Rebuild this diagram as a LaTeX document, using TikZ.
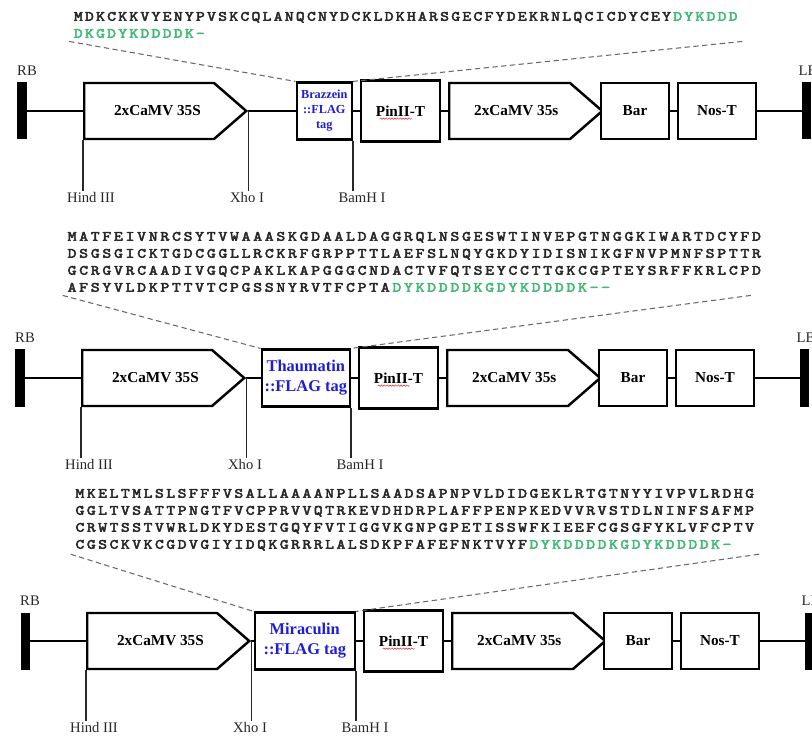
\documentclass[tikz,border=0pt]{standalone}
\usepackage{fontspec}
\setmainfont{Liberation Serif}
\newfontfamily\resfont{lmmono10-regular.otf}[FakeBold=3.5, FakeStretch=1.2]
\usetikzlibrary{positioning,calc,shapes.symbols,decorations.pathmorphing}
\definecolor{ink}{RGB}{0,0,0}
\definecolor{muted}{RGB}{40,40,40}
\definecolor{dashgrey}{RGB}{105,105,105}
\definecolor{flag}{RGB}{66,186,116}
\definecolor{gene}{RGB}{30,30,215}
\definecolor{spell}{RGB}{220,40,40}
\newlength\respitch
\def\resrun#1{\ifx\relax#1\else\makebox[\respitch]{#1}\expandafter\resrun\fi}
\newcommand{\peptide}[1]{\resrun#1\relax}
\newcommand{\flagtag}[1]{\textcolor{flag}{\resrun#1\relax}}
\tikzset{
  part/.style={draw=ink, line width=2.1pt, fill=white, minimum height=1.68cm, inner sep=0pt, align=center, font=\fontsize{13}{15}\selectfont\bfseries},
  promoter/.style={part, shape=signal, signal to=east, signal pointer angle=82, anchor=west},
  border/.style={fill=ink, minimum width=0.27cm, minimum height=1.71cm, inner sep=0pt},
  genesmall/.style={font=\fontsize{10.5}{12.8}\selectfont\bfseries},
  genelarge/.style={font=\fontsize{14}{17}\selectfont\bfseries},
  backbone/.style={draw=ink, line width=1.6pt},
  cutsite/.style={draw=muted, line width=0.9pt},
  sitetext/.style={font=\fontsize{12.5}{14}\selectfont, text=muted, inner sep=1pt},
  seqblock/.style={font=\fontsize{12}{14.5}\selectfont\resfont, text=muted, align=left, inner sep=0.1cm, anchor=north west},
  respitch/.code={\setlength\respitch{#1}},
  zoomline/.style={draw=dashgrey, line width=0.9pt, dash pattern=on 4.5pt off 3pt},
  squiggle/.style={draw=spell, line width=0.4pt, decorate, decoration={snake, amplitude=0.6pt, segment length=2.4pt}},
}
% one T-DNA row: prefix, y, x shift, gene width, gene text, gene font
\newcommand{\Cassette}[6]{%
  \begin{scope}[shift={(#3,#2)}]
    \node[border] (#1rb) at (20,0) {};
    \node[sitetext] (#1rbt) at (25,-40) {RB};
    \node[promoter, minimum width=4.86cm] (#1pro) at (81,0) {\hspace*{0.5cm}2xCaMV 35S};
    \node[part, #6, text=gene, minimum width=#4, minimum height=1.7cm, anchor=east] (#1gene) at (351,0) {#5};
    \node[part, minimum width=2.37cm, minimum height=1.83cm] (#1pin) at (398.5,0) {PinII-T};
    \node[promoter, minimum width=4.59cm] (#1prob) at (446,0) {\hspace*{0.4cm}2xCaMV 35s};
    \node[part, minimum width=2.04cm] (#1bar) at (633,0) {Bar};
    \node[part, minimum width=2.34cm] (#1nos) at (715,0) {Nos-T};
    \node[border] (#1lb) at (804.5,0) {};
    \node[sitetext] (#1lbt) at (806,-40) {LB};
    \node[sitetext] (#1hind) at (89,86.5) {Hind III};
    \node[sitetext] (#1xho) at (245,86.5) {Xho I};
    \node[sitetext] (#1bam) at (360,86.5) {BamH I};
    \draw[backbone] (#1rb) -- (#1pro);
    \draw[backbone] (#1pro.east) -- (#1gene);
    \draw[backbone] (#1gene) -- (#1pin);
    \draw[backbone] (#1pin) -- (#1prob);
    \draw[backbone] (#1bar) -- (#1nos);
    \draw[backbone] (#1nos) -- (#1lb);
    \draw[cutsite] (#1pro.south west) -- (#1pro.south west |- #1hind.north);
    \draw[cutsite] (#1pro.east) -- (#1pro.east |- #1xho.north);
    \draw[cutsite] (#1gene.south east) -- (#1gene.south east |- #1bam.north);
    \draw[squiggle] ([xshift=-0.62cm,yshift=-0.23cm]#1pin.center) -- ++(0.95cm,0);
  \end{scope}}

\begin{document}
\begin{tikzpicture}[x=0.03cm, y=-0.03cm]
  \fill[white] (0,0) rectangle (812,739);
  \useasboundingbox (0,0) rectangle (812,739);

  % Peptide sequences
  \node[seqblock, respitch=0.333cm] (seqA) at (69.2,8.4) {\peptide{MDKCKKVYENYPVSKCQLANQCNYDCKLDKHARSGECFYDEKRNLQCICDYCEY}\flagtag{DYKDDD}\\
    \flagtag{DKGDYKDDDDK–}};
  \node[seqblock, respitch=0.348cm] (seqB) at (62.7,228.4) {\peptide{MATFEIVNRCSYTVWAAASKGDAALDAGGRQLNSGESWTINVEPGTNGGKIWARTDCYFD}\\
    \peptide{DSGSGICKTGDCGGLLRCKRFGRPPTTLAEFSLNQYGKDYIDISNIKGFNVPMNFSPTTR}\\
    \peptide{GCRGVRCAADIVGQCPAKLKAPGGGCNDACTVFQTSEYCCTTGKCGPTEYSRFFKRLCPD}\\
    \peptide{AFSYVLDKPTTVTCPGSSNYRVTFCPTA}\flagtag{DYKDDDDKGDYKDDDDK--}};
  \node[seqblock, respitch=0.3405cm] (seqC) at (70.7,485.4) {\peptide{MKELTMLSLSFFFVSALLAAAANPLLSAADSAPNPVLDIDGEKLRTGTNYYIVPVLRDHG}\\
    \peptide{GGLTVSATTPNGTFVCPPRVVQTRKEVDHDRPLAFFPENPKEDVVRVSTDLNINFSAFMP}\\
    \peptide{CRWTSSTVWRLDKYDESTGQYFVTIGGVKGNPGPETISSWFKIEEFCGSGFYKLVFCPTV}\\
    \peptide{CGSCKVKCGDVGIYIDQKGRRRLALSDKPFAFEFNKTVYF}\flagtag{DYKDDDDKGDYKDDDDK-}};

  % Expression cassettes
  \Cassette{A}{111}{2}{1.65cm}{Brazzein\\::FLAG\\tag}{genesmall}
  \Cassette{B}{378}{0}{2.64cm}{Thaumatin\\::FLAG tag}{genelarge}
  \Cassette{C}{641}{5}{3.0cm}{Miraculin\\::FLAG tag}{genelarge}

  % Zoom lines from sequence to gene box
  \draw[zoomline] (seqA.south west) -- (Agene.north west);
  \draw[zoomline] (seqA.south east) -- (Agene.north east);
  \draw[zoomline] (seqB.south west) -- (Bgene.north west);
  \draw[zoomline] ([xshift=-0.45cm]seqB.south east) -- (Bgene.north east);
  \draw[zoomline] (seqC.south west) -- (Cgene.north west);
  \draw[zoomline] (seqC.south east) -- (Cgene.north east);
\end{tikzpicture}
\end{document}
